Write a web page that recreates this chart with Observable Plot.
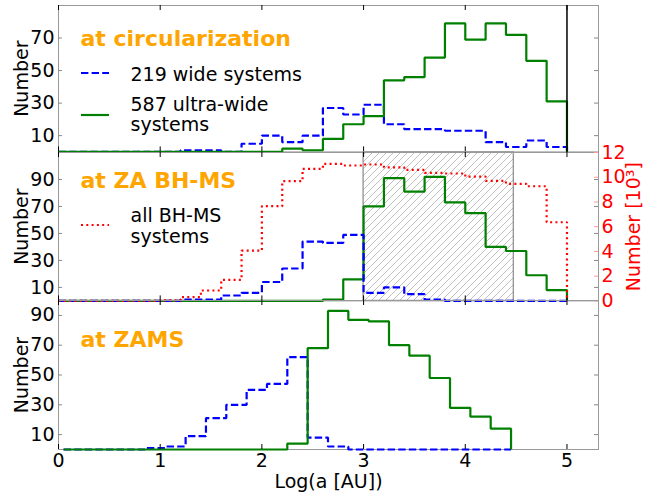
<!DOCTYPE html>
<html><head><meta charset="utf-8">
<script src="https://cdn.jsdelivr.net/npm/d3@7"></script>
<script src="https://cdn.jsdelivr.net/npm/@observablehq/plot@0.6"></script>
<style>
body{margin:0;background:#fff;}
#chart{position:relative;width:664px;height:496px;overflow:hidden;font-family:"DejaVu Sans",sans-serif;}
#chart svg{position:absolute;left:0;top:0;overflow:visible;}
</style></head><body><div id="chart"></div>
<script>
// ---- data ----
const xTicks = [0, 1, 2, 3, 4, 5];
const edgesAB = [0,0.2,0.4,0.6,0.8,1.0,1.2,1.4,1.6,1.8,2.0,2.2,2.4,2.6,2.8,3.0,3.2,3.4,3.6,3.8,4.0,4.2,4.4,4.6,4.8,5.0];
const edgesC = [0.05,0.25,0.45,0.65,0.85,1.05,1.25,1.45,1.65,1.85,2.05,2.25,2.45,2.65,2.85,3.05,3.25,3.45,3.65,3.85,4.05,4.25,4.45];

const circWide  = [0,0,0,0,0,0,1,1,0,5,10,6,10,27,23,29,17,14,14,13,13,6,3,7,3];
const circUltra = [0,0,0,0,0,0,0,0,0,0,0,2,1,8,17,22,44,46,58,79,69,79,72,56,31];

const zaWide  = [0,0,0,0,0,0,1,1,4,6,14,24,44,43,49,6,10,5,1,0,0,0,0,0,0];
const zaUltra = [0,0,0,0,0,0,0,0,0,0,0,0,0,1,16,70,91,81,92,73,65,40,37,19,8];
const zaAll   = [0,0,0,0,0,0.05,0.3,0.84,1.7,4.07,7.66,9.68,10.68,11.08,10.95,11.03,10.8,10.6,10.35,10.3,10.05,9.7,9.47,9.27,6.36]; // thousands

const zamsWide  = [0,0,0,0,1,2,9,21,30,40,44,62,8,2,0,0,0,0,0,0,0,0];
const zamsUltra = [0,0,0,0,0,0,0,0,0,0,0,4,68,93,87,86,70,63,48,28,22,14];

const ticksCirc = [10, 30, 50, 70];
const ticksZA = [10, 30, 50, 70, 90];
const ticksZAMS = [10, 30, 50, 70, 90];
const ticksAll = [0, 2, 4, 6, 8, 10, 12];
const hatchRange = [3, 4.477];
const circMarker = [5];

// ---- layout ----
const W = 664, H = 496, ML = 58, MR = 66;
const xDomain = [0, 5.31];
const BLUE = "#0000ff", GREEN = "#008000", RED = "#ff0000", ORANGE = "#ffa500";
const FONT = "DejaVu Sans";

function steps(edges, counts) {
  const pts = [{x: edges[0], y: 0}];
  counts.forEach((c, i) => pts.push({x: edges[i], y: c}));
  pts.push({x: edges[edges.length - 1], y: 0});
  return pts;
}
function stepLine(edges, counts, color, dash) {
  return Plot.line(steps(edges, counts), {x: "x", y: "y", curve: "step-after", stroke: color,
    strokeWidth: 2.2, strokeDasharray: dash, strokeLinejoin: "miter", strokeLinecap: "butt"});
}
function label(txt, o) {
  return Plot.text([txt], Object.assign({text: d => d, frameAnchor: "top-left", textAnchor: "start",
    lineAnchor: "middle", fill: "black", fontSize: 19}, o));
}

function panel(cfg) {
  const ph = H - cfg.top - cfg.bottom, pw = W - ML - MR;
  const marks = [];
  if (cfg.pre) marks.push(...cfg.pre);
  marks.push(Plot.frame({stroke: "#999"}));
  marks.push(...cfg.lines);
  if (cfg.post) marks.push(...cfg.post);
  marks.push(Plot.tickX(xTicks, {x: d => d, stroke: "black", insetTop: ph - 5}));
  marks.push(Plot.tickX(xTicks, {x: d => d, stroke: "black", insetBottom: ph - 5}));
  marks.push(Plot.tickY(cfg.yTicks, {y: d => d, stroke: "#888", insetRight: pw - 4}));
  marks.push(Plot.tickY(cfg.yTicks, {y: d => d, stroke: "#888", insetLeft: pw - 4}));
  marks.push(Plot.axisY({ticks: cfg.yTicks, tickSize: 0, tickPadding: 4, label: null}));
  marks.push(Plot.text(["Number"], {text: d => d, frameAnchor: "left", dx: -37, rotate: -90,
    textAnchor: "middle", lineAnchor: "middle", fill: "black", fontSize: 19}));
  if (cfg.xaxis) {
    marks.push(Plot.axisX({ticks: xTicks, tickSize: 0, tickPadding: 4, label: null, tickFormat: d => String(d)}));
    marks.push(Plot.text(["Log(a [AU])"], {text: d => d, frameAnchor: "bottom", dy: 32,
      textAnchor: "middle", lineAnchor: "middle", fill: "black", fontSize: 19}));
  }
  marks.push(...cfg.texts);
  return Plot.plot({
    width: W, height: H, marginLeft: ML, marginRight: MR, marginTop: cfg.top, marginBottom: cfg.bottom,
    x: {domain: xDomain, axis: null},
    y: {domain: cfg.yDomain, axis: null},
    style: {fontFamily: FONT, fontSize: "19px", background: "transparent", overflow: "visible", color: "black"},
    marks
  });
}

const chart = document.getElementById("chart");

// top panel: at circularization
const p1 = panel({
  top: 5, bottom: 344.6, yDomain: [0, 90], yTicks: ticksCirc,
  lines: [stepLine(edgesAB, circWide, BLUE, "7.4,3.2"), stepLine(edgesAB, circUltra, GREEN, null)],
  post: [Plot.ruleX(circMarker, {x: d => d, stroke: "black", strokeWidth: 1.5})],
  texts: [
    label("at circularization", {dx: 22, dy: 33, fill: ORANGE, fontWeight: "bold", fontSize: 22}),
    label("219 wide systems", {dx: 72, dy: 69}),
    label("587 ultra-wide", {dx: 72, dy: 99}),
    label("systems", {dx: 72, dy: 119})
  ]
});
chart.appendChild(p1);

// middle panel: at ZA BH-MS
const p2 = panel({
  top: 152, bottom: 195.6, yDomain: [0, 110], yTicks: ticksZA,
  pre: [Plot.rect([hatchRange], {x1: d => d[0], x2: d => d[1], fill: "url(#hatch)", stroke: "#888", strokeWidth: 1.2})],
  lines: [stepLine(edgesAB, zaUltra, GREEN, null), stepLine(edgesAB, zaWide, BLUE, "7.4,3.2")],
  texts: [
    label("at ZA BH-MS", {dx: 22, dy: 28, fill: ORANGE, fontWeight: "bold", fontSize: 22}),
    label("all BH-MS", {dx: 72, dy: 63}),
    label("systems", {dx: 72, dy: 84})
  ]
});
const defs = d3.select(p2).insert("defs", ":first-child");
const pat = defs.append("pattern").attr("id", "hatch").attr("patternUnits", "userSpaceOnUse")
  .attr("width", 7).attr("height", 7);
pat.append("path").attr("d", "M-1,1 l2,-2 M0,7 l7,-7 M6,8 l2,-2")
  .attr("stroke", "#b0b0b0").attr("stroke-width", 0.8).attr("fill", "none");
chart.appendChild(p2);

// middle panel right axis overlay (thousands)
const p2r = Plot.plot({
  width: W, height: H, marginLeft: ML, marginRight: MR, marginTop: 152, marginBottom: 195.6,
  x: {domain: xDomain, axis: null},
  y: {domain: [0, 12], axis: null},
  style: {fontFamily: FONT, fontSize: "19px", background: "transparent", overflow: "visible"},
  marks: [
    stepLine(edgesAB, zaAll, RED, "2,3.3"),
    Plot.tickY(ticksAll, {y: d => d, stroke: "#ff9999", insetLeft: W - ML - MR - 4}),
    Plot.axisY({anchor: "right", ticks: ticksAll, tickSize: 0, tickPadding: 3, label: null, fill: RED}),
    Plot.text(["Number [10³]"], {text: d => d, frameAnchor: "right", dx: 35, rotate: -90,
      textAnchor: "middle", lineAnchor: "middle", fill: RED, fontSize: 19})
  ]
});
chart.appendChild(p2r);

// bottom panel: at ZAMS
const p3 = panel({
  top: 300, bottom: 47, yDomain: [0, 100], yTicks: ticksZAMS, xaxis: true,
  lines: [stepLine(edgesC, zamsWide, BLUE, "7.4,3.2"), stepLine(edgesC, zamsUltra, GREEN, null)],
  texts: [label("at ZAMS", {dx: 22, dy: 39, fill: ORANGE, fontWeight: "bold", fontSize: 22})]
});
chart.appendChild(p3);

// legend samples
const leg = d3.select(chart).append("svg").attr("width", W).attr("height", H);
const legendItems = [
  {y: 73, color: BLUE, dash: "7.4,3.2"},
  {y: 115, color: GREEN, dash: null},
  {y: 225, color: RED, dash: "2,3.3"}
];
leg.selectAll("line").data(legendItems).join("line")
  .attr("x1", 81).attr("x2", 109).attr("y1", d => d.y).attr("y2", d => d.y)
  .attr("stroke", d => d.color).attr("stroke-width", 2.2)
  .attr("stroke-dasharray", d => d.dash);
</script></body></html>
